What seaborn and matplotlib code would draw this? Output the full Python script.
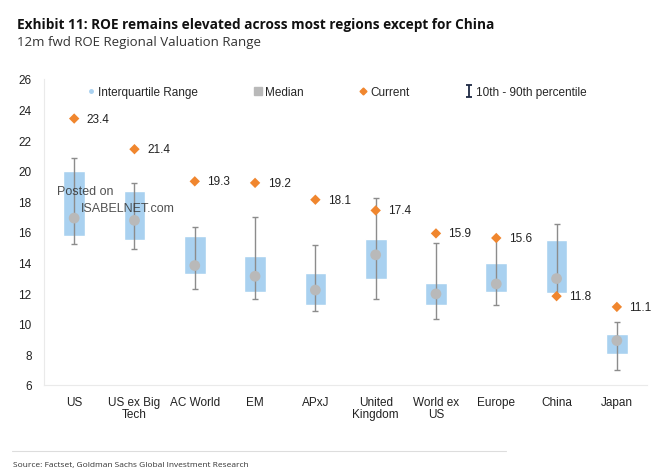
import numpy as np
import pandas as pd
import seaborn as sns
import matplotlib.pyplot as plt
from matplotlib.lines import Line2D
from matplotlib.path import Path

# ---------------------------------------------------------------------------
# Data
# ---------------------------------------------------------------------------
regions = ["US", "US ex Big\nTech", "AC World", "EM", "APxJ", "United\nKingdom",
           "World ex\nUS", "Europe", "China", "Japan"]
p10 = [15.2, 14.9, 12.3, 11.6, 10.8, 11.6, 10.3, 11.25, 11.8, 7.0]
p90 = [20.8, 19.2, 16.3, 17.0, 15.15, 18.2, 15.3, 15.6, 16.5, 10.1]
q1 = [15.75, 15.5, 13.25, 12.1, 11.25, 12.95, 11.2, 12.05, 12.0, 8.0]
q3 = [19.95, 18.65, 15.7, 14.4, 13.3, 15.55, 12.65, 13.95, 15.5, 9.35]
median = [16.9, 16.75, 13.8, 13.1, 12.2, 14.5, 11.95, 12.6, 12.95, 8.9]
current = [23.4, 21.4, 19.3, 19.2, 18.1, 17.4, 15.9, 15.6, 11.8, 11.1]

df = pd.DataFrame({"region": regions, "p10": p10, "p90": p90, "q1": q1, "q3": q3,
                   "median": median, "current": current})
df["pos"] = np.arange(len(df))

sns.set_style("white")
plt.rcParams["font.family"] = ["Liberation Sans", "DejaVu Sans"]

box_col = "#a9d1f0"
med_col = "#b9b9b9"
cur_col = "#f0862e"
whisk_col = "#8c8c8c"

fig = plt.figure(figsize=(6.7, 4.77), dpi=100)
ax = fig.add_axes([0.0657, 0.1908, 0.9, 0.642])

# IQR boxes
ax.bar(df["pos"], df["q3"] - df["q1"], bottom=df["q1"], width=0.36,
       color=box_col, zorder=1)
# 10th - 90th whiskers
ax.vlines(df["pos"], df["p10"], df["p90"], color=whisk_col, lw=1, zorder=2)
ax.hlines(df["p10"], df["pos"] - 0.05, df["pos"] + 0.05, color=whisk_col, lw=1, zorder=2)
ax.hlines(df["p90"], df["pos"] - 0.05, df["pos"] + 0.05, color=whisk_col, lw=1, zorder=2)

sns.scatterplot(data=df, x="pos", y="median", ax=ax, marker="o", s=60,
                color=med_col, edgecolor="none", zorder=3, legend=False)
sns.scatterplot(data=df, x="pos", y="current", ax=ax, marker="D", s=28,
                color=cur_col, edgecolor="none", zorder=4, legend=False)

for x, v in zip(df["pos"], df["current"]):
    ax.annotate(f"{v:.1f}", (x, v), xytext=(9, 0), textcoords="offset points",
                ha="left", va="center", fontsize=8.5, color="#222222")

ax.set_xlim(-0.5, len(df) - 0.5)
ax.set_ylim(6, 26)
ax.set_yticks(range(6, 27, 2))
ax.set_xticks(df["pos"])
ax.set_xticklabels(df["region"], fontsize=8.5, color="#222222", linespacing=1.0)
ax.tick_params(axis="x", length=0, pad=8)
ax.tick_params(axis="y", labelsize=8.5, labelcolor="#222222", length=3,
               color="#e6e6e6", pad=6)
ax.set_xticks(np.arange(-0.5, len(df), 1), minor=True)
ax.tick_params(axis="x", which="minor", length=3, color="#e6e6e6", direction="out")
ax.set_xlabel("")
ax.set_ylabel("")
for side in ["top", "right"]:
    ax.spines[side].set_visible(False)
for side in ["left", "bottom"]:
    ax.spines[side].set_color("#eaeaea")

# legend, with an I-beam marker for the percentile range
ibeam = Path([(-0.45, 1), (0.45, 1), (0, 1), (0, -1), (-0.45, -1), (0.45, -1)],
             [Path.MOVETO, Path.LINETO, Path.MOVETO, Path.LINETO, Path.MOVETO, Path.LINETO])
handles = [
    Line2D([], [], ls="none", marker="o", ms=2.5, color=box_col),
    Line2D([], [], ls="none", marker="s", ms=6, color=med_col),
    Line2D([], [], ls="none", marker="D", ms=3.5, color=cur_col),
    Line2D([], [], ls="none", marker=ibeam, ms=9, mew=1.3, color="#1f2a44"),
]
labels = ["Interquartile Range", "Median", "Current", "10th - 90th percentile"]
ax.legend(handles, labels, ncol=4, frameon=False, loc="upper left",
          bbox_to_anchor=(0.055, 1.01), fontsize=8.5, handlelength=0.6,
          handletextpad=0.3, columnspacing=4.75)

# watermark
fig.text(0.085, 0.592, "Posted on", fontsize=9, color="#333333", alpha=0.85)
fig.text(0.12, 0.556, "ISABELNET.com", fontsize=9, color="#333333", alpha=0.85)

# title, subtitle, source
fig.text(0.025, 0.947, "Exhibit 11: ROE remains elevated across most regions except for China",
         fontsize=9.8, fontweight="bold", family=["Open Sans", "DejaVu Sans"],
         color="#111111", va="center")
fig.text(0.025, 0.910, "12m fwd ROE Regional Valuation Range", fontsize=9.5,
         family=["Open Sans", "DejaVu Sans"], color="#333333", va="center")
fig.add_artist(Line2D([0.018, 0.755], [0.052, 0.052], color="#dddddd", lw=0.8))
fig.text(0.019, 0.025, "Source: Factset, Goldman Sachs Global Investment Research",
         fontsize=6.0, family=["Open Sans", "DejaVu Sans"], color="#333333", va="center")

fig.savefig("out.png", dpi=100, facecolor="white")
